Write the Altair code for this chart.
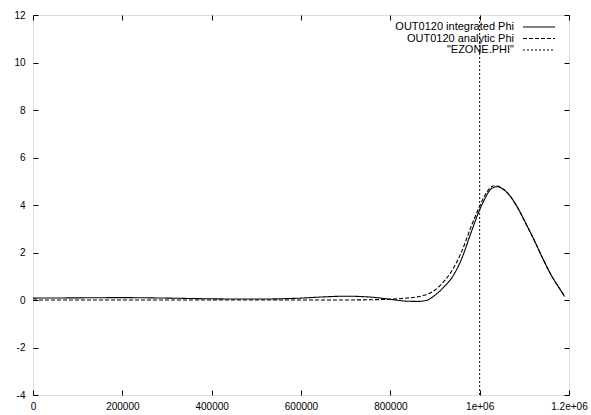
import altair as alt
import pandas as pd

# ---- data ----
series_names = ["OUT0120 integrated Phi", "OUT0120 analytic Phi", '"EZONE.PHI"']

x_vals = [0, 100000, 200000, 300000, 400000, 500000, 600000, 650000, 700000,
          750000, 800000, 830000, 860000, 880000, 900000, 920000, 940000,
          960000, 980000, 1000000, 1010000, 1020000, 1030000, 1040000,
          1050000, 1060000, 1070000, 1080000, 1090000, 1100000, 1120000,
          1140000, 1160000, 1180000, 1190000]

integrated = [0.08, 0.09, 0.10, 0.08, 0.05, 0.04, 0.08, 0.13, 0.16,
              0.13, 0.03, -0.04, -0.06, -0.02, 0.2, 0.55, 1.0,
              1.75, 2.8, 3.8, 4.2, 4.55, 4.73, 4.77,
              4.7, 4.55, 4.33, 4.05, 3.72, 3.35, 2.6,
              1.8, 1.05, 0.45, 0.15]

analytic = [0.0, 0.0, 0.0, 0.0, 0.0, 0.0, 0.0, 0.0, 0.0,
            0.01, 0.03, 0.07, 0.13, 0.22, 0.42, 0.78, 1.3,
            2.05, 3.05, 3.95, 4.35, 4.65, 4.8, 4.8,
            4.7, 4.55, 4.33, 4.05, 3.72, 3.35, 2.6,
            1.8, 1.05, 0.45, 0.17]

ezone_x = [1000000]
ezone_y_from = [-4]
ezone_y_to = [12]

x_ticks = [0, 200000, 400000, 600000, 800000, 1000000, 1200000]
x_tick_labels = ["0", "200000", "400000", "600000", "800000", "1e+06", "1.2e+06"]
y_ticks = [-4, -2, 0, 2, 4, 6, 8, 10, 12]

# ---- tables ----
rows = []
for xv, yv in zip(x_vals, integrated):
    rows.append({"x": xv, "y": yv, "series": series_names[0]})
for xv, yv in zip(x_vals, analytic):
    rows.append({"x": xv, "y": yv, "series": series_names[1]})
curves = pd.DataFrame(rows)
ezone = pd.DataFrame({"x": ezone_x, "y": ezone_y_from, "y2": ezone_y_to,
                      "series": [series_names[2]] * len(ezone_x)})

W, H = 536, 380
TICK = 5
FONT = "Liberation Sans"

xlabel_expr = " : ".join(
    f"datum.value == {v} ? '{l}'" for v, l in zip(x_ticks, x_tick_labels)
) + " : ''"

x_axis = alt.Axis(values=x_ticks, labelExpr=xlabel_expr, ticks=False, domain=False,
                  grid=True, gridColor="black", gridOpacity=1, gridWidth=1,
                  gridDash=[TICK, H - 2 * TICK], labelPadding=6, title=None,
                  labelFlush=False)
y_axis = alt.Axis(values=y_ticks, labelExpr="'' + datum.value", ticks=False, domain=False,
                  grid=True, gridColor="black", gridOpacity=1, gridWidth=1,
                  gridDash=[TICK, W - 2 * TICK], labelPadding=8, title=None)

xs = alt.Scale(domain=[0, 1200000], nice=False, zero=False)
ys = alt.Scale(domain=[-4, 12], nice=False, zero=False)

dash_scale = alt.Scale(domain=series_names, range=[[1, 0], [4, 2], [2, 2]])
legend = alt.Legend(title=None, orient="none", legendX=500.5, legendY=6.5,
                    symbolType="M-3.56,0H3.56", symbolSize=81,
                    symbolStrokeWidth=1, symbolStrokeColor="black",
                    symbolFillColor="transparent",
                    labelAlign="right", labelOffset={"expr": "-30.5"}, labelFont=FONT,
                    labelFontSize=11, labelColor="black",
                    rowPadding={"expr": "-0.5"},
                    padding=0, labelLimit=300)

lines = alt.Chart(curves).mark_line(color="black", strokeWidth=1.1,
                                    interpolate="monotone", clip=True).encode(
    x=alt.X("x:Q", scale=xs, axis=x_axis),
    y=alt.Y("y:Q", scale=ys, axis=y_axis),
    strokeDash=alt.StrokeDash("series:N", scale=dash_scale, legend=legend),
    detail="series:N",
)

vline = alt.Chart(ezone).mark_rule(color="black", strokeWidth=1).encode(
    x=alt.X("x:Q", scale=xs, axis=x_axis),
    y=alt.Y("y:Q", scale=ys, axis=y_axis),
    y2="y2:Q",
    strokeDash=alt.StrokeDash("series:N", scale=dash_scale, legend=legend),
)

chart = alt.layer(lines, vline).properties(
    width=W, height=H,
    autosize=alt.AutoSizeParams(type="none"),
    padding={"left": 33, "top": 15, "right": 22, "bottom": 20},
).configure_view(stroke="black", strokeWidth=1).configure_axis(
    labelFont=FONT, labelFontSize=11, labelColor="black"
).configure(background="white")

chart.save("out.html", embed_options={"renderer": "svg", "actions": False})
